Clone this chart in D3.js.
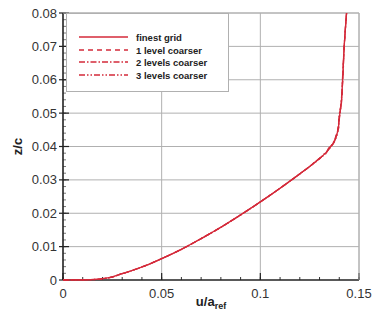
<!DOCTYPE html>
<html><head><meta charset="utf-8">
<script src="https://cdn.jsdelivr.net/npm/d3@7"></script>
<style>body{margin:0;background:#fff}svg{display:block}</style>
</head><body>
<svg id="c" width="372" height="324"></svg>
<script>
const zLevels = [0,0.0001,0.0004,0.0019,0.0039,0.0064,0.0092,0.0124,0.0158,0.0195,0.0234,0.0275,0.0318,0.0340,0.0364,0.0380,0.0395,0.0410,0.0430,0.0455,0.0485,0.0530,0.0600,0.0700,0.0800];
const uFinest  = [0,0.014,0.020,0.030,0.040,0.050,0.060,0.070,0.080,0.090,0.100,0.110,0.120,0.125,0.1300,0.1330,0.1350,0.1370,0.1385,0.1395,0.1400,0.1410,0.1417,0.1425,0.1437];
const uCoarse1 = [0,0.014,0.020,0.030,0.040,0.050,0.060,0.070,0.080,0.090,0.100,0.110,0.120,0.125,0.1298,0.1333,0.1347,0.1372,0.1383,0.1396,0.1399,0.1411,0.1417,0.1425,0.1437];
const uCoarse2 = [0,0.014,0.020,0.030,0.040,0.050,0.060,0.070,0.080,0.090,0.100,0.110,0.120,0.125,0.1302,0.1327,0.1353,0.1367,0.1387,0.1393,0.1401,0.1409,0.1418,0.1425,0.1437];
const uCoarse3 = [0,0.014,0.020,0.030,0.040,0.050,0.060,0.070,0.080,0.090,0.100,0.110,0.120,0.125,0.1299,0.1335,0.1346,0.1373,0.1382,0.1397,0.1398,0.1410,0.1416,0.1425,0.1437];
const seriesNames = ["finest grid","1 level coarser","2 levels coarser","3 levels coarser"];
const seriesU = [uFinest,uCoarse1,uCoarse2,uCoarse3];
const xTicks = [0,0.05,0.1,0.15];
const yTicks = [0,0.01,0.02,0.03,0.04,0.05,0.06,0.07,0.08];
const xTickLabels = ["0","0.05","0.1","0.15"];
const yTickLabels = ["0","0.01","0.02","0.03","0.04","0.05","0.06","0.07","0.08"];

const dashes = [null,"5,4","6,2,1.5,2","6,2,1.5,2,1.5,2"];
const red = "#d42a3a";
const svg = d3.select("#c");
const L=63,R=359,T=13,B=280;
const x = d3.scaleLinear().domain([0,0.15]).range([L,R]);
const y = d3.scaleLinear().domain([0,0.08]).range([B,T]);
const font = "'Liberation Sans', Arial, Helvetica, sans-serif";

const g = svg.append("g");
g.selectAll(".gx").data(xTicks.slice(1)).join("line")
  .attr("x1",d=>x(d)).attr("x2",d=>x(d)).attr("y1",T).attr("y2",B)
  .attr("stroke","#b0b0b0").attr("stroke-width",1);
g.selectAll(".gy").data(yTicks.slice(1)).join("line")
  .attr("x1",L).attr("x2",R).attr("y1",d=>y(d)).attr("y2",d=>y(d))
  .attr("stroke","#b0b0b0").attr("stroke-width",1);

const xMinor = d3.range(0,0.1501,0.01);
const yMinor = d3.range(0,0.0801,0.002);
g.selectAll(".mx").data(xMinor).join("line")
  .attr("x1",d=>x(d)).attr("x2",d=>x(d)).attr("y1",B).attr("y2",B-3)
  .attr("stroke","#333").attr("stroke-width",1);
g.selectAll(".my").data(yMinor).join("line")
  .attr("x1",L).attr("x2",L+3).attr("y1",d=>y(d)).attr("y2",d=>y(d))
  .attr("stroke","#555").attr("stroke-width",0.8);
g.selectAll(".Mx").data(xTicks).join("line")
  .attr("x1",d=>x(d)).attr("x2",d=>x(d)).attr("y1",B).attr("y2",B-7)
  .attr("stroke","#222").attr("stroke-width",1.2);
g.selectAll(".My").data(yTicks).join("line")
  .attr("x1",L-4).attr("x2",L+6).attr("y1",d=>y(d)).attr("y2",d=>y(d))
  .attr("stroke","#222").attr("stroke-width",1.2);

g.append("line").attr("x1",L).attr("x2",L).attr("y1",T).attr("y2",B).attr("stroke","#222").attr("stroke-width",1.6);
g.append("line").attr("x1",L).attr("x2",R).attr("y1",B).attr("y2",B).attr("stroke","#222").attr("stroke-width",1.6);

g.selectAll(".lx").data(xTicks).join("text")
  .attr("x",d=>x(d)).attr("y",B+18).attr("text-anchor","middle")
  .attr("font-family",font).attr("font-size",13).attr("fill","#333")
  .text((d,i)=>xTickLabels[i]);
g.selectAll(".ly").data(yTicks).join("text")
  .attr("x",L-6).attr("y",d=>y(d)+4.5).attr("text-anchor","end")
  .attr("font-family",font).attr("font-size",13).attr("fill","#333")
  .text((d,i)=>yTickLabels[i]);

svg.append("text").attr("transform",`translate(22,${(T+B)/2}) rotate(-90)`)
  .attr("text-anchor","middle").attr("font-family",font).attr("font-size",13)
  .attr("font-weight","bold").attr("fill","#222").text("z/c");
const xt = svg.append("text").attr("x",(L+R)/2).attr("y",306).attr("text-anchor","middle")
  .attr("font-family",font).attr("font-size",13).attr("font-weight","bold").attr("fill","#222");
xt.append("tspan").text("u/a");
xt.append("tspan").attr("font-size",9).attr("dy",3).text("ref");

const line = d3.line().x(d=>x(d[0])).y(d=>y(d[1])).curve(d3.curveMonotoneY);
seriesU.forEach((us,i)=>{
  svg.append("path").datum(us.map((u,k)=>[u,zLevels[k]]))
    .attr("d",line).attr("fill","none").attr("stroke",red)
    .attr("stroke-width",1.3).attr("stroke-dasharray",dashes[i]);
});

const lg = svg.append("g");
lg.append("rect").attr("x",66.5).attr("y",13.5).attr("width",162).attr("height",78)
  .attr("fill","#fff").attr("stroke","#b0b0b0").attr("stroke-width",1);
const rows=[37,50,62,75];
seriesNames.forEach((n,i)=>{
  lg.append("line").attr("x1",79).attr("x2",128).attr("y1",rows[i]).attr("y2",rows[i])
    .attr("stroke",red).attr("stroke-width",1.3).attr("stroke-dasharray",dashes[i]);
  lg.append("text").attr("x",136).attr("y",rows[i]+3.5).attr("font-family",font)
    .attr("font-size",9.5).attr("font-weight","bold").attr("fill","#222").text(n);
});
g.append("line").attr("x1",L).attr("x2",R).attr("y1",T).attr("y2",T).attr("stroke","#b0b0b0");
g.append("line").attr("x1",R).attr("x2",R).attr("y1",T).attr("y2",B).attr("stroke","#b0b0b0");
</script>
</body></html>
